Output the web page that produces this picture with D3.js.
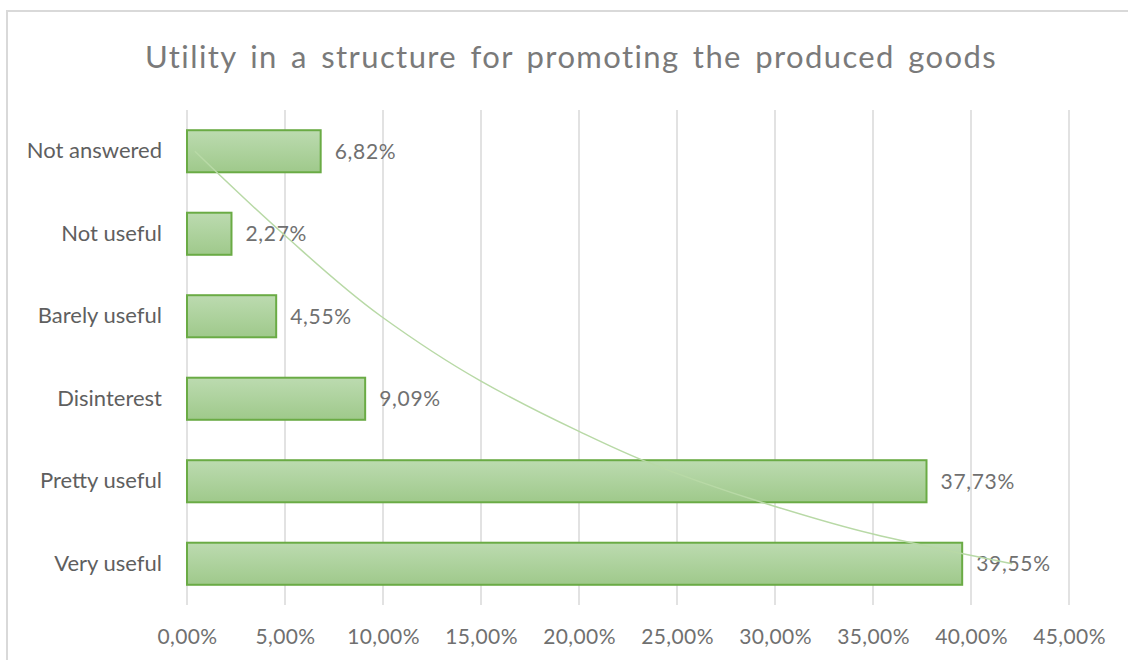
<!DOCTYPE html>
<html>
<head>
<meta charset="utf-8">
<script src="https://cdn.jsdelivr.net/npm/d3@7"></script>
<style>
  html, body { margin: 0; padding: 0; background: #fff; }
  svg { display: block; }
  text { font-family: Lato, "Open Sans", sans-serif; }
</style>
</head>
<body>
<svg id="chart" width="1128" height="660"></svg>
<script>
// Survey answers, listed top to bottom as drawn
const categories = ["Not answered", "Not useful", "Barely useful", "Disinterest", "Pretty useful", "Very useful"];
const values = [6.82, 2.27, 4.55, 9.09, 37.73, 39.55];
const tickValues = [0, 5, 10, 15, 20, 25, 30, 35, 40, 45];
const tickLabels = ["0,00%", "5,00%", "10,00%", "15,00%", "20,00%", "25,00%", "30,00%", "35,00%", "40,00%", "45,00%"];
// Trendline samples: position along the category rows (0 = first row) and value in %
const trendRows = [0, 1, 2, 2.78, 3.39, 3.75, 4.26, 4.64, 4.87, 5];
const trendValues = [0.4, 4.9, 9.9, 14.95, 19.95, 23.3, 29.4, 35.0, 39.4, 42.1];

const svg = d3.select("#chart");
const W = 1128, H = 660;
const margin = { left: 187, right: 1128 - 1069, top: 110, bottom: 660 - 605 };

// chart frame
svg.append("rect")
  .attr("x", 7).attr("y", 11)
  .attr("width", W + 20).attr("height", H + 20)
  .attr("fill", "#fff").attr("stroke", "#d9d9d9").attr("stroke-width", 2);

const x = d3.scaleLinear().domain([0, 45]).range([margin.left, W - margin.right]);
const y = d3.scaleBand().domain(categories)
  .range([margin.top, H - margin.bottom])
  .paddingInner(0.49).paddingOuter(0.245);

// gradient fill for the bars
const defs = svg.append("defs");
const grad = defs.append("linearGradient").attr("id", "barFill")
  .attr("x1", 0).attr("y1", 0).attr("x2", 0).attr("y2", 1);
grad.append("stop").attr("offset", "0%").attr("stop-color", "#bcdbb0");
grad.append("stop").attr("offset", "100%").attr("stop-color", "#9fc98b");

// title
svg.append("text")
  .attr("x", 571).attr("y", 68)
  .attr("text-anchor", "middle")
  .attr("font-size", 31)
  .attr("fill", "#7a7a7a")
  .attr("letter-spacing", 1.4)
  .attr("word-spacing", 4)
  .text("Utility in a structure for promoting the produced goods");

// vertical gridlines
svg.append("g")
  .selectAll("line")
  .data(tickValues)
  .join("line")
  .attr("x1", d => x(d)).attr("x2", d => x(d))
  .attr("y1", margin.top).attr("y2", H - margin.bottom)
  .attr("stroke", "#d9d9d9").attr("stroke-width", 1.5);

// x axis labels
const xAxis = d3.axisBottom(x)
  .tickValues(tickValues)
  .tickFormat((d, i) => tickLabels[i])
  .tickSize(0).tickPadding(0);
const gx = svg.append("g")
  .attr("transform", `translate(0, ${H - margin.bottom + 24})`)
  .call(xAxis);
gx.select(".domain").remove();
gx.selectAll("text")
  .attr("font-size", 21).attr("fill", "#707070")
  .attr("font-family", "Lato, sans-serif")
  .attr("letter-spacing", 0.4);

// y axis labels
const yAxis = d3.axisLeft(y).tickSize(0).tickPadding(25);
const gy = svg.append("g")
  .attr("transform", `translate(${margin.left}, 0)`)
  .call(yAxis);
gy.select(".domain").remove();
gy.selectAll("text")
  .attr("font-size", 22).attr("fill", "#5f5f5f")
  .attr("font-family", "Lato, sans-serif");

// bars
svg.append("g")
  .selectAll("rect")
  .data(categories)
  .join("rect")
  .attr("x", x(0))
  .attr("y", d => y(d))
  .attr("width", (d, i) => x(values[i]) - x(0))
  .attr("height", y.bandwidth())
  .attr("fill", "url(#barFill)")
  .attr("stroke", "#6aab45")
  .attr("stroke-width", 2);

// value labels
svg.append("g")
  .selectAll("text")
  .data(categories)
  .join("text")
  .attr("x", (d, i) => x(values[i]) + 14)
  .attr("y", d => y(d) + y.bandwidth() / 2)
  .attr("dy", "0.35em")
  .attr("font-size", 21)
  .attr("fill", "#707070")
  .attr("letter-spacing", 0.7)
  .text((d, i) => values[i].toFixed(2).replace(".", ",") + "%");

// trendline
const rowPos = d3.scaleLinear()
  .domain([0, categories.length - 1])
  .range([y(categories[0]) + y.bandwidth() / 2, y(categories[categories.length - 1]) + y.bandwidth() / 2]);
const trendLine = d3.line()
  .x((d, i) => x(trendValues[i]))
  .y((d, i) => rowPos(trendRows[i]))
  .curve(d3.curveMonotoneY);
svg.append("path")
  .datum(trendRows)
  .attr("d", trendLine)
  .attr("fill", "none")
  .attr("stroke", "#b8d9a6")
  .attr("stroke-width", 1.5);
</script>
</body>
</html>
